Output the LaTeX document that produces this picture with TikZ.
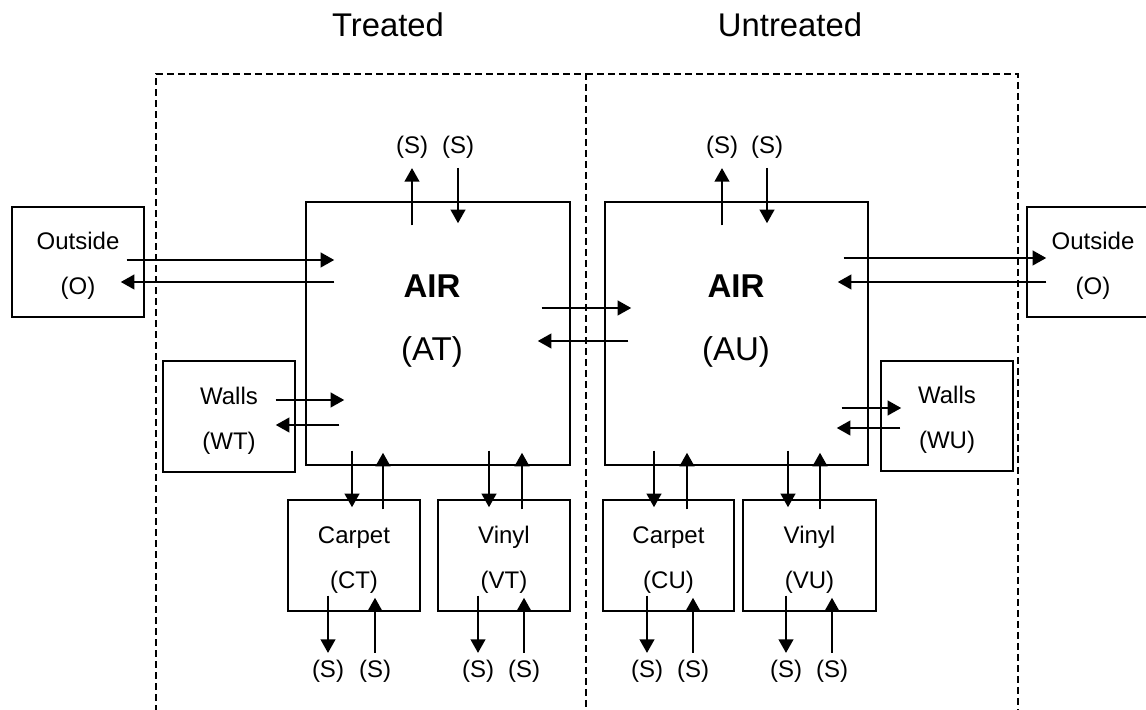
\documentclass[tikz,border=0pt]{standalone}
\usepackage{fontspec}
\setmainfont{Liberation Sans}
\usetikzlibrary{arrows.meta}

\begin{document}
\begin{tikzpicture}[x=0.5pt,y=-0.5pt,
box/.style={draw,line width=0.7pt,inner sep=0pt,align=center,text height=35.4pt,font=\fontsize{12}{22.5}\selectfont},
airbox/.style={draw,line width=0.7pt,minimum width=132pt,minimum height=131.5pt},
airtext/.style={align=center,font=\fontsize{16.5}{31.5}\selectfont},
flow/.style={line width=1.35pt,-{Triangle[length=6.8pt,width=7.2pt]}},
sink/.style={inner xsep=0pt,inner ysep=3.5pt,font=\fontsize{12}{14}\selectfont},
region/.style={line width=0.65pt,dash pattern=on 3.3pt off 2.2pt},
title/.style={anchor=base,font=\fontsize{16.4}{20}\selectfont}]
\useasboundingbox (0,0) rectangle (1146,710);
\node[title] (TT) at (388,37) {Treated};
\node[title] (TU) at (790,37) {Untreated};
\draw[region] (156,712) |- (586,74) -- (586,712);
\draw[region] (586,74) -| (1018,712);
\node[airbox] (AT) at (438,333.5) {};
\node[airbox,minimum width=131.5pt] (AU) at (736.5,333.5) {};
\node[airtext] (ATtext) at (432,321) {\textbf{AIR}\\(AT)};
\node[airtext] (AUtext) at (736,321) {\textbf{AIR}\\(AU)};
\node[box,minimum width=66pt,minimum height=55pt] (OL) at (78,262) {Outside\\(O)};
\node[box,minimum width=66pt,minimum height=55pt] (OR) at (1093,262) {Outside\\(O)};
\node[box,minimum width=66pt,minimum height=55.5pt] (WT) at (229,416.5) {Walls\\(WT)};
\node[box,minimum width=66pt,minimum height=55pt] (WU) at (947,416) {Walls\\(WU)};
\node[box,minimum width=66pt,minimum height=55.5pt] (CT) at (354,555.5) {Carpet\\(CT)};
\node[box,minimum width=66pt,minimum height=55.5pt] (VT) at (504,555.5) {Vinyl\\(VT)};
\node[box,minimum width=65.5pt,minimum height=55.5pt] (CU) at (668.5,555.5) {Carpet\\(CU)};
\node[box,minimum width=66.5pt,minimum height=55.5pt] (VU) at (809.5,555.5) {Vinyl\\(VU)};
\node[sink,anchor=south,inner ysep=4.5pt] (SAT1) at (412,168) {(S)};
\node[sink,anchor=south,inner ysep=4.5pt] (SAT2) at (458,168) {(S)};
\node[sink,anchor=south,inner ysep=4.5pt] (SAU1) at (722,168) {(S)};
\node[sink,anchor=south,inner ysep=4.5pt] (SAU2) at (767,168) {(S)};
\node[sink,anchor=north] (SCT1) at (328,653) {(S)};
\node[sink,anchor=north] (SCT2) at (375,653) {(S)};
\node[sink,anchor=north] (SVT1) at (478,653) {(S)};
\node[sink,anchor=north] (SVT2) at (524,653) {(S)};
\node[sink,anchor=north] (SCU1) at (647,653) {(S)};
\node[sink,anchor=north] (SCU2) at (693,653) {(S)};
\node[sink,anchor=north] (SVU1) at (786,653) {(S)};
\node[sink,anchor=north] (SVU2) at (832,653) {(S)};
\draw[flow] ([shift={(-18,-2)}]OL.east) -- ([shift={(29,-73.5)}]AT.west);
\draw[flow] ([shift={(29,-51.5)}]AT.west) -- ([shift={(-24,20)}]OL.east);
\draw[flow] ([shift={(-20,-16.5)}]WT.east) -- ([shift={(39,66.5)}]AT.west);
\draw[flow] ([shift={(34,91.5)}]AT.west) -- ([shift={(-20,8.5)}]WT.east);
\draw[flow] ([shift={(-29,-25.5)}]AT.east) -- ([shift={(27,-25.5)}]AU.west);
\draw[flow] ([shift={(24,7.5)}]AU.west) -- ([shift={(-33,7.5)}]AT.east);
\draw[flow] ([shift={(-25,-75.5)}]AU.east) -- ([shift={(20,-4)}]OR.west);
\draw[flow] ([shift={(20,20)}]OR.west) -- ([shift={(-31,-51.5)}]AU.east);
\draw[flow] ([shift={(-27,74.5)}]AU.east) -- ([shift={(21,-8)}]WU.west);
\draw[flow] ([shift={(20,12)}]WU.west) -- ([shift={(-32,94.5)}]AU.east);
\draw[flow] ([shift={(-26,24)}]AT.north) -- (SAT1.south);
\draw[flow] (SAT2.south) -- ([shift={(20,22)}]AT.north);
\draw[flow] ([shift={(-14.5,24)}]AU.north) -- (SAU1.south);
\draw[flow] (SAU2.south) -- ([shift={(30.5,22)}]AU.north);
\draw[flow] ([shift={(-86,-15)}]AT.south) -- ([shift={(-2,8)}]CT.north);
\draw[flow] ([shift={(29,10)}]CT.north) -- ([shift={(-55,-13)}]AT.south);
\draw[flow] ([shift={(51,-15)}]AT.south) -- ([shift={(-15,8)}]VT.north);
\draw[flow] ([shift={(18,10)}]VT.north) -- ([shift={(84,-13)}]AT.south);
\draw[flow] ([shift={(-82.5,-15)}]AU.south) -- ([shift={(-14.5,8)}]CU.north);
\draw[flow] ([shift={(18.5,10)}]CU.north) -- ([shift={(-49.5,-13)}]AU.south);
\draw[flow] ([shift={(51.5,-15)}]AU.south) -- ([shift={(-21.5,8)}]VU.north);
\draw[flow] ([shift={(10.5,10)}]VU.north) -- ([shift={(83.5,-13)}]AU.south);
\draw[flow] ([shift={(-26,-16)}]CT.south) -- (SCT1.north);
\draw[flow] (SCT2.north) -- ([shift={(21,-14)}]CT.south);
\draw[flow] ([shift={(-26,-16)}]VT.south) -- (SVT1.north);
\draw[flow] (SVT2.north) -- ([shift={(20,-14)}]VT.south);
\draw[flow] ([shift={(-21.5,-16)}]CU.south) -- (SCU1.north);
\draw[flow] (SCU2.north) -- ([shift={(24.5,-14)}]CU.south);
\draw[flow] ([shift={(-23.5,-16)}]VU.south) -- (SVU1.north);
\draw[flow] (SVU2.north) -- ([shift={(22.5,-14)}]VU.south);
\end{tikzpicture}
\end{document}
